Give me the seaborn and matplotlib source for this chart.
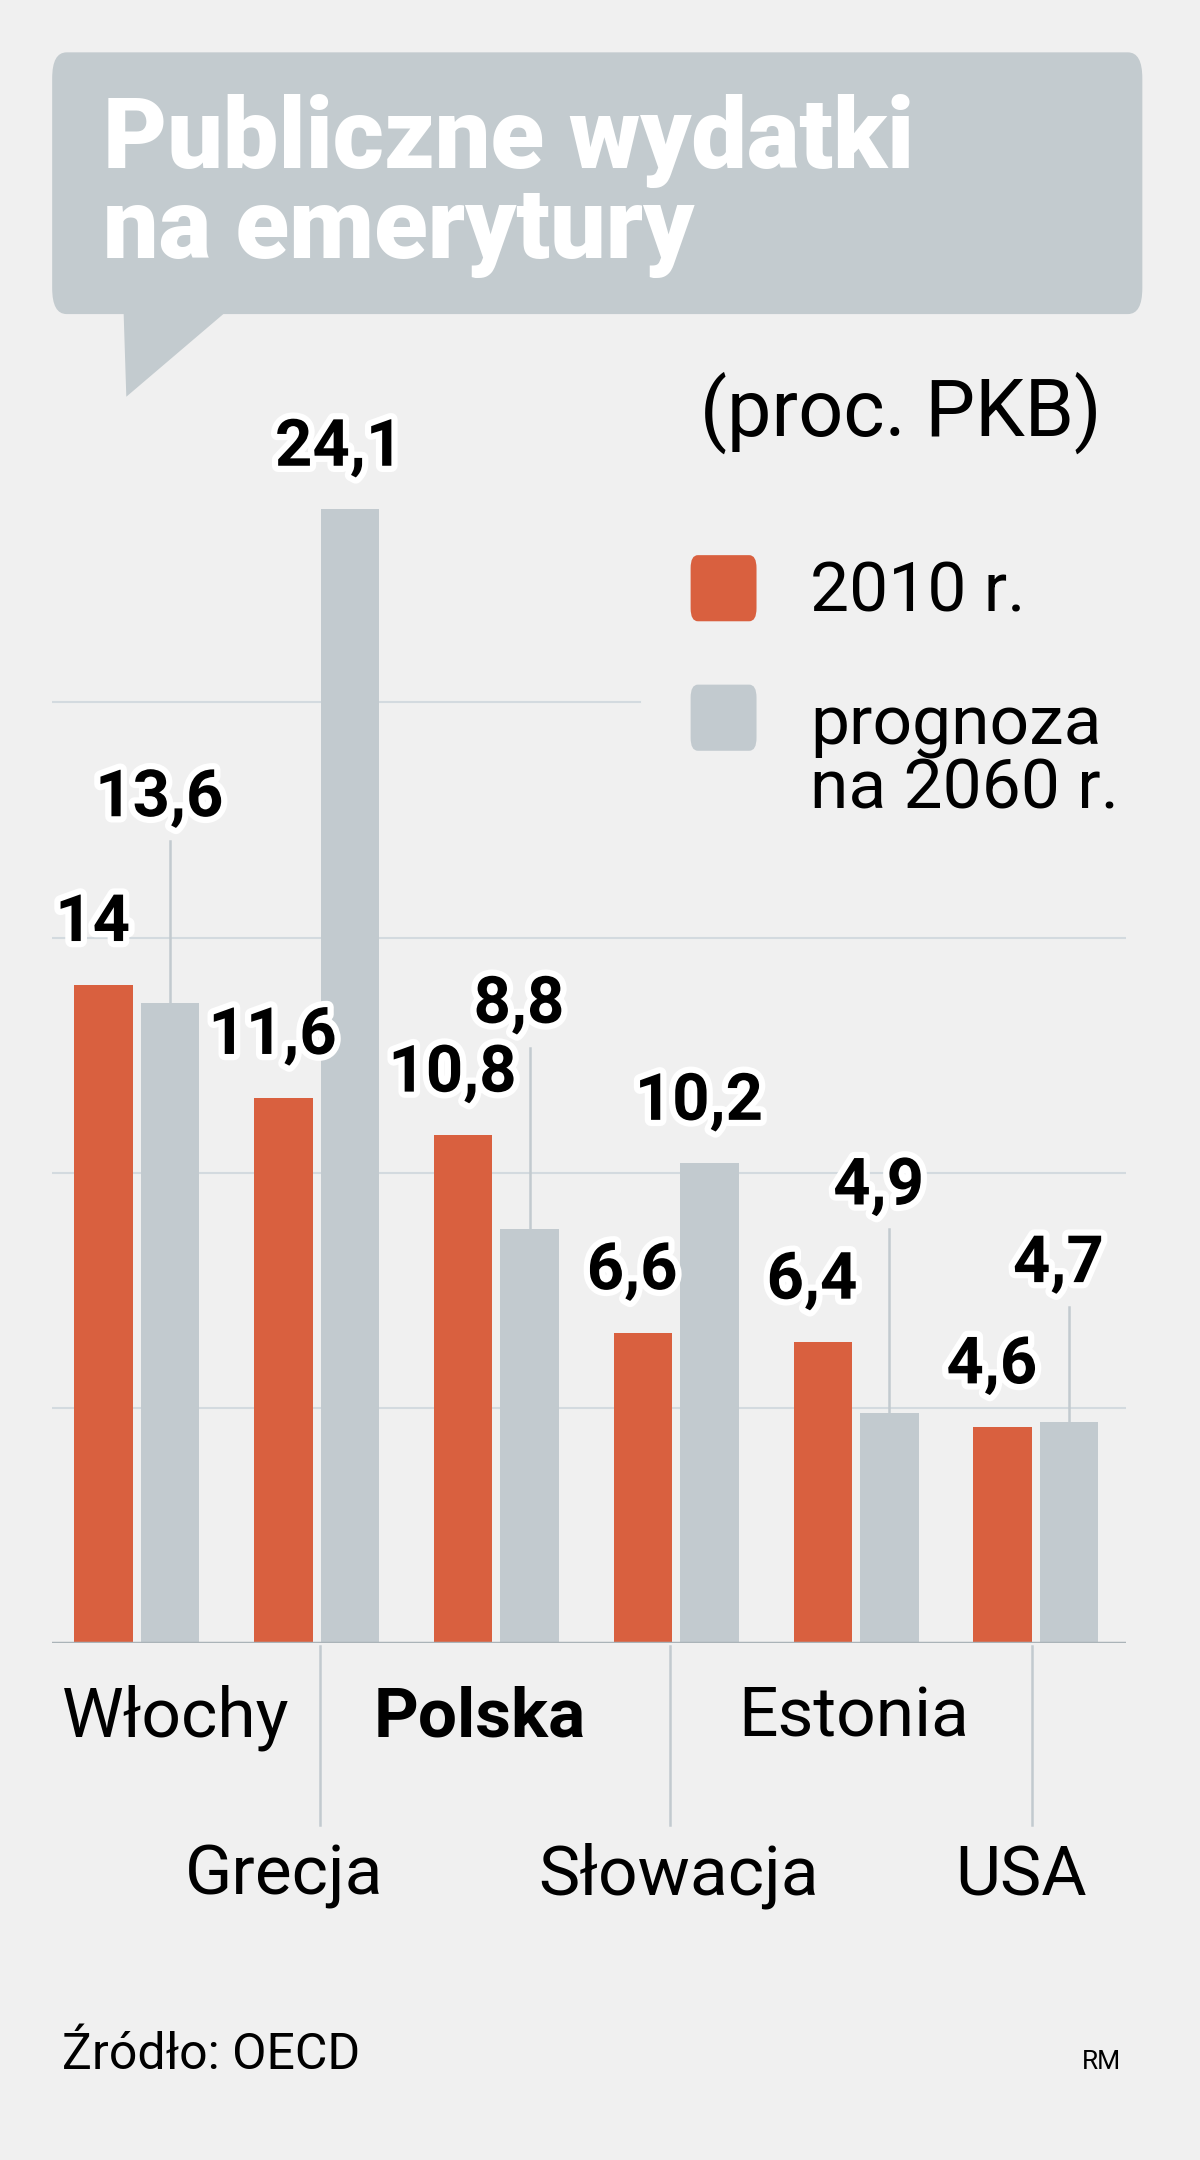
import matplotlib
matplotlib.use("Agg")
import matplotlib.pyplot as plt
import matplotlib.patheffects as pe
from matplotlib.patches import FancyBboxPatch, Polygon
import pandas as pd
import seaborn as sns

countries = ["Włochy", "Grecja", "Polska", "Słowacja", "Estonia", "USA"]
values_2010 = [14.0, 11.6, 10.8, 6.6, 6.4, 4.6]
values_2060 = [13.6, 24.1, 8.8, 10.2, 4.9, 4.7]
series = ["2010 r.", "prognoza\nna 2060 r."]

ORANGE = "#d9603f"
GREY = "#c2cacf"
BG = "#f0f0f0"
FONT = "Roboto"

W, H = 874, 1568  # layout units of the reference


def fx(x):
    return x / W


def fy(y):
    return 1 - y / H


df = pd.DataFrame({
    "kraj": countries * 2,
    "seria": [series[0]] * 6 + [series[1]] * 6,
    "wartosc": values_2010 + values_2060,
})

fig = plt.figure(figsize=(12, 21.6), dpi=100)
fig.patch.set_facecolor(BG)

ax = fig.add_axes([fx(38), fy(1193), fx(820) - fx(38), fy(339) - fy(1193)])
ax.set_facecolor(BG)
sns.barplot(data=df, x="kraj", y="wartosc", hue="seria", order=countries,
            palette=[ORANGE, GREY], width=0.74, gap=0.12, legend=False,
            saturation=1, ax=ax, zorder=3)
ax.set_xlim(-0.47, 5.5)
ax.set_ylim(0, 25)
for s in ax.spines.values():
    s.set_visible(False)
ax.set_xticks([])
ax.set_yticks([])
ax.set_xlabel("")
ax.set_ylabel("")
for g in [5, 10, 15]:
    ax.axhline(g, color="#d3dadf", lw=1.5, zorder=1)
ax.plot([-0.47, 2.8], [20, 20], color="#d3dadf", lw=1.5, zorder=1)
ax.axhline(0, color="#aab3b8", lw=2.5, zorder=4)

NUM = 47
halo = [pe.withStroke(linewidth=9, foreground="white")]
off = 0.185
for i, v in enumerate(values_2010):
    ax.text(i - off - 0.06, v + 0.65, f"{v:g}".replace(".", ","), ha="center", va="bottom",
            fontsize=NUM, fontweight="bold", family=FONT, path_effects=halo, zorder=6)

lifts = [4.35, 0, 4.76, 0, 4.8, 3.35]
for i, v in enumerate(values_2060):
    txt = f"{v:g}".replace(".", ",")
    if lifts[i]:
        ax.plot([i + off, i + off], [v, v + lifts[i] - 0.9], color="#c2cacf", lw=1.8, zorder=2)
        ax.text(i + off - 0.06, v + lifts[i], txt, ha="center", va="center",
                fontsize=NUM, fontweight="bold", family=FONT, path_effects=halo, zorder=6)
    else:
        ax.text(i + off - 0.06, v + 0.65, txt, ha="center", va="bottom",
                fontsize=NUM, fontweight="bold", family=FONT, path_effects=halo, zorder=6)

# country labels, staggered in two rows
top_row = {0: 45, 2: 272, 4: 538}
for i, name in enumerate(countries):
    if i in top_row:
        fig.text(fx(top_row[i]), fy(1247), name, ha="left", va="center", fontsize=50,
                 family=FONT, fontweight="bold" if name == "Polska" else "normal")
    else:
        xc = [233, 488, 752][i // 2]
        fig.add_artist(plt.Line2D([fx(xc), fx(xc)], [fy(1195), fy(1325)],
                                  color="#c2cacf", lw=1.8))
        fig.text(fx(xc - 98 if i == 1 else xc - 96 if i == 3 else xc - 56), fy(1362), name,
                 ha="left", va="center", fontsize=50, family=FONT)

# title box
fig.add_artist(FancyBboxPatch((fx(38), fy(228)), fx(832) - fx(38), fy(38) - fy(228),
                              boxstyle="round,pad=0,rounding_size=0.012",
                              facecolor="#c3cbcf", edgecolor="none"))
fig.add_artist(Polygon([(fx(90), fy(226)), (fx(165), fy(226)), (fx(92), fy(288))],
                       closed=True, facecolor="#c3cbcf", edgecolor="none"))
fig.text(fx(75), fy(135), "Publiczne wydatki\nna emerytury", ha="left", va="center",
         fontsize=71, fontweight="black", family=FONT, color="white", linespacing=0.95)

fig.text(fx(802), fy(300), "(proc. PKB)", ha="right", va="center", fontsize=57, family=FONT)

# legend
for y, c in [(427, ORANGE), (521, GREY)]:
    fig.add_artist(FancyBboxPatch((fx(503), fy(y + 24)), fx(48), fy(0) - fy(48),
                                  boxstyle="round,pad=0,rounding_size=0.006",
                                  facecolor=c, edgecolor="none"))
for y, lab in [(430, series[0]), (550, series[1])]:
    fig.text(fx(590), fy(y), lab, ha="left", va="center", fontsize=50, family=FONT,
             linespacing=0.95)

fig.text(fx(45), fy(1492), "Źródło: OECD", ha="left", va="center", fontsize=36, family=FONT)
fig.text(fx(788), fy(1497), "RM", ha="left", va="center", fontsize=19, family=FONT)

fig.savefig("out.png", dpi=100, facecolor=BG)
